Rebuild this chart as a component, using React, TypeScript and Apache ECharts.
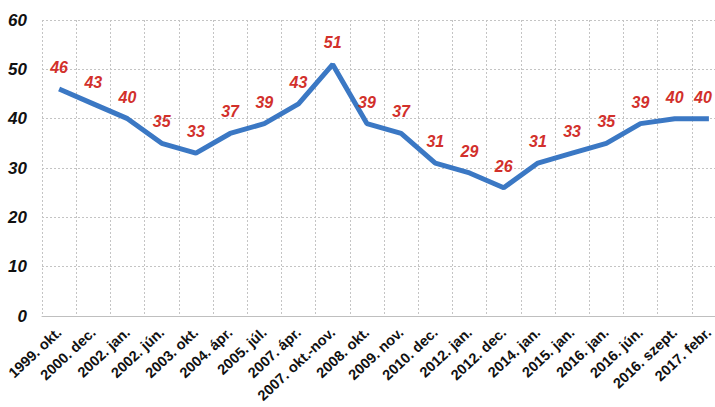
import React, { useEffect, useRef } from "react";
import * as echarts from "echarts";

const categories = [
  "1999. okt.", "2000. dec.", "2002. jan.", "2002. jún.", "2003. okt.",
  "2004. ápr.", "2005. júl.", "2007. ápr.", "2007. okt.-nov.", "2008. okt.",
  "2009. nov.", "2010. dec.", "2012. jan.", "2012. dec.", "2014. jan.",
  "2015. jan.", "2016. jan.", "2016. jún.", "2016. szept.", "2017. febr.",
];
const values = [46, 43, 40, 35, 33, 37, 39, 43, 51, 39, 37, 31, 29, 26, 31, 33, 35, 39, 40, 40];

export default function App() {
  const ref = useRef<HTMLDivElement>(null);
  useEffect(() => {
    document.body.style.margin = "0";
    const chart = echarts.init(ref.current!, null, { renderer: "svg" });
    const seriesData = values.map((v, i) =>
      i === values.length - 1 ? { value: v, label: { offset: [-6, 0] } } : v
    );
    chart.setOption({
      animation: false,
      backgroundColor: "#ffffff",
      grid: { left: 42, right: 0, top: 20, bottom: 91, containLabel: false },
      xAxis: {
        type: "category",
        data: categories,
        boundaryGap: true,
        axisLine: { show: true, lineStyle: { color: "#bfbfbf", width: 1 } },
        axisTick: { show: false },
        splitLine: { show: true, lineStyle: { color: "#c4c4c4", type: [2, 2], width: 1 } },
        axisLabel: {
          interval: 0,
          rotate: 43,
          margin: 14,
          color: "#111",
          fontFamily: "Liberation Sans, Arial, sans-serif",
          fontWeight: "bold",
          fontSize: 14.5,
        },
      },
      yAxis: {
        type: "value",
        min: 0,
        max: 60,
        interval: 10,
        axisLine: { show: false },
        axisTick: { show: false },
        splitLine: { show: true, lineStyle: { color: "#c4c4c4", type: [2, 2], width: 1 } },
        axisLabel: {
          margin: 15,
          color: "#111",
          fontFamily: "Liberation Sans, Arial, sans-serif",
          fontWeight: "bold",
          fontStyle: "italic",
          fontSize: 17,
        },
      },
      series: [
        {
          type: "line",
          data: seriesData,
          showSymbol: true,
          symbol: "circle",
          symbolSize: 1,
          itemStyle: { color: "rgba(0,0,0,0)" },
          lineStyle: { color: "#3b78c4", width: 5 },
          label: {
            show: true,
            position: "top",
            distance: 13,
            color: "#d2302b",
            fontFamily: "Liberation Sans, Arial, sans-serif",
            fontWeight: "bold",
            fontStyle: "italic",
            fontSize: 16,
          },
        },
      ],
    });
    return () => chart.dispose();
  }, []);
  return (
    <div style={{ width: 715, height: 407, overflow: "hidden" }}>
      <div ref={ref} style={{ width: 726, height: 407 }} />
    </div>
  );
}
